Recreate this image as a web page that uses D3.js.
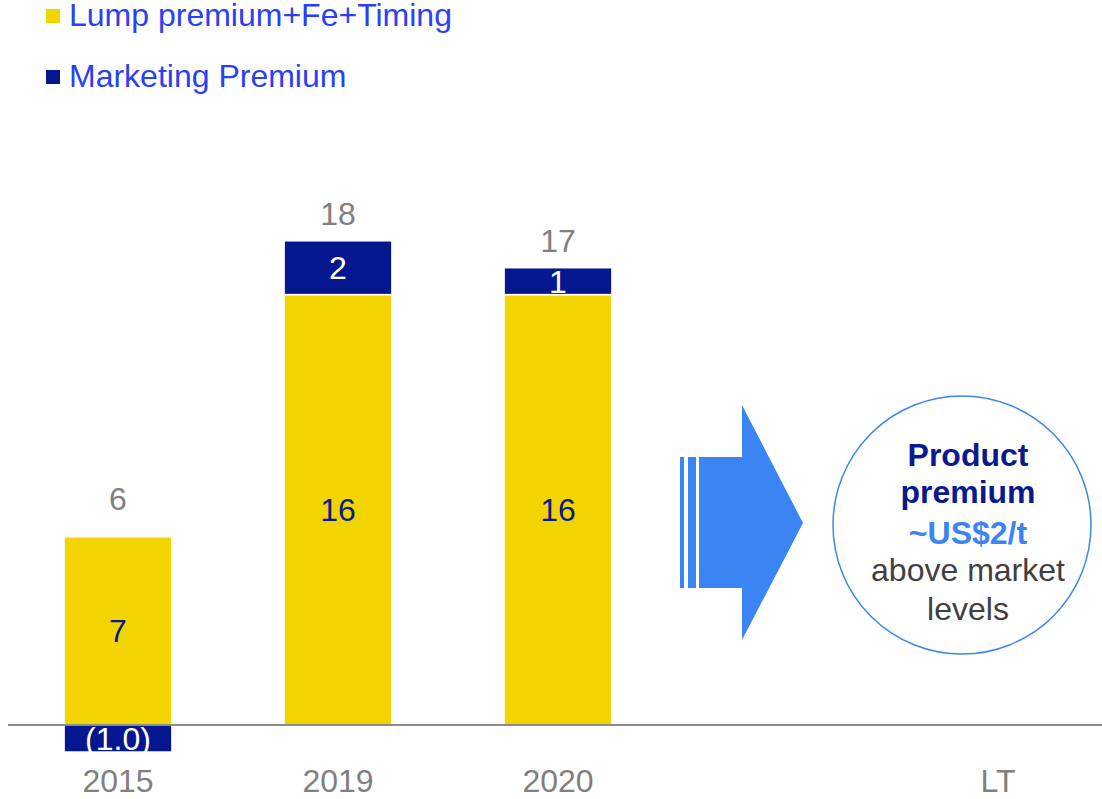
<!DOCTYPE html>
<html>
<head>
<meta charset="utf-8">
<script src="https://cdn.jsdelivr.net/npm/d3@7"></script>
<style>
  html, body { margin: 0; padding: 0; background: #fff; }
  svg { display: block; font-family: "Liberation Sans", Arial, sans-serif; }
</style>
</head>
<body>
<svg id="chart" width="1102" height="799"></svg>
<script>
// Categories along the axis (the blank slot holds the arrow)
const categories = ["2015", "2019", "2020", "", "LT"];
const barCategories = ["2015", "2019", "2020"];

// Series values (US$/t)
const lumpPremium = [7, 16, 16];
const marketingPremium = [-1.0, 2, 1];
const totals = [6, 18, 17];

// Segment label text
const lumpLabels = ["7", "16", "16"];
const marketingLabels = ["(1.0)", "2", "1"];

const seriesNames = ["Lump premium+Fe+Timing", "Marketing Premium"];

const calloutLines = [
  { text: "Product", kind: "head" },
  { text: "premium", kind: "head" },
  { text: "~US$2/t", kind: "value" },
  { text: "above market", kind: "body" },
  { text: "levels", kind: "body" }
];

const colors = { lump: "#f2d400", marketing: "#04178f", axis: "#8c8c8c", grey: "#808080",
                 legendText: "#2a40f4", arrow: "#3a85f3", navy: "#0a1a8c", dark: "#404040" };

const FS = 32;

const svg = d3.select("#chart");

const x = d3.scaleBand().domain(categories).range([8, 1108])
  .paddingInner(0.51).paddingOuter(0.255);
const y = d3.scaleLinear().domain([-1, 18]).range([752, 240.8]);

const rows = barCategories.map((c, i) => ({ cat: c, lump: lumpPremium[i], marketing: marketingPremium[i],
  total: totals[i], lumpLabel: lumpLabels[i], marketingLabel: marketingLabels[i] }));

const stack = d3.stack().keys(["lump", "marketing"]).offset(d3.stackOffsetDiverging);
const stacked = stack(rows);

// Bars
const layer = svg.append("g").selectAll("g").data(stacked).join("g")
  .attr("fill", d => colors[d.key]);

layer.selectAll("rect").data(d => d.map(s => ({ key: d.key, s }))).join("rect")
  .attr("x", d => x(d.s.data.cat))
  .attr("width", x.bandwidth())
  .attr("y", d => y(Math.max(d.s[0], d.s[1])))
  .attr("height", d => Math.abs(y(d.s[0]) - y(d.s[1])))
  .attr("stroke", "#fff")
  .attr("stroke-width", 1.5);

// Segment labels
layer.selectAll("text").data(d => d.map(s => ({ key: d.key, s }))).join("text")
  .attr("x", d => x(d.s.data.cat) + x.bandwidth() / 2)
  .attr("y", d => (y(d.s[0]) + y(d.s[1])) / 2)
  .attr("dy", "0.36em")
  .attr("text-anchor", "middle")
  .attr("font-size", FS)
  .attr("fill", d => d.key === "lump" ? colors.navy : "#fff")
  .text(d => d.key === "lump" ? d.s.data.lumpLabel : d.s.data.marketingLabel);

// Baseline
svg.append("line")
  .attr("x1", 8).attr("x2", 1102)
  .attr("y1", y(0)).attr("y2", y(0))
  .attr("stroke", colors.axis).attr("stroke-width", 2);

// Totals above each stack
svg.append("g").selectAll("text").data(rows).join("text")
  .attr("x", d => x(d.cat) + x.bandwidth() / 2)
  .attr("y", d => y(d.lump + Math.max(0, d.marketing)) - (d.marketing < 0 ? 27 : 16))
  .attr("text-anchor", "middle")
  .attr("font-size", FS)
  .attr("fill", colors.grey)
  .text(d => d.total);

// Category axis labels
const xAxis = d3.axisBottom(x).tickSize(0).tickPadding(0);
const axisG = svg.append("g").attr("transform", `translate(0,${y(0)})`).call(xAxis);
axisG.select(".domain").remove();
axisG.selectAll("text")
  .attr("y", 67).attr("dy", 0)
  .attr("font-size", FS)
  .attr("font-family", "Liberation Sans, Arial, sans-serif")
  .attr("fill", colors.grey);

// Legend
const legend = svg.append("g");
const legendColors = [colors.lump, colors.marketing];
seriesNames.forEach((name, i) => {
  const ly = 26 + i * 61;
  legend.append("rect").attr("x", 46).attr("y", ly - 17).attr("width", 14).attr("height", 14)
    .attr("fill", legendColors[i]);
  legend.append("text").attr("x", 69).attr("y", ly)
    .attr("font-size", FS).attr("fill", colors.legendText).text(name);
});

// Arrow pointing toward the long-term callout
const ax = x("") + x.bandwidth() / 2 - 36; // centre of the arrow slot
const arrowG = svg.append("g").attr("fill", colors.arrow);
arrowG.append("rect").attr("x", ax - 62).attr("y", 457).attr("width", 4).attr("height", 131);
arrowG.append("rect").attr("x", ax - 54).attr("y", 457).attr("width", 8).attr("height", 131);
arrowG.append("path").attr("d",
  `M${ax - 43},457 L${ax},457 L${ax},405 L${ax + 61},523 L${ax},640 L${ax},588 L${ax - 43},588 Z`);

// Callout circle
const cx = 962, cy = 525, r = 129;
svg.append("circle").attr("cx", cx).attr("cy", cy).attr("r", r)
  .attr("fill", "#fff").attr("stroke", colors.arrow).attr("stroke-width", 1.5);

const styleFor = {
  head: { fill: colors.navy, weight: "bold" },
  value: { fill: colors.arrow, weight: "bold" },
  body: { fill: colors.dark, weight: "normal" }
};
const lineBase = [466, 503, 544, 581, 620];
svg.append("g").selectAll("text").data(calloutLines).join("text")
  .attr("x", cx + 6)
  .attr("y", (d, i) => lineBase[i])
  .attr("text-anchor", "middle")
  .attr("font-size", FS)
  .attr("font-weight", d => styleFor[d.kind].weight)
  .attr("fill", d => styleFor[d.kind].fill)
  .text(d => d.text);
</script>
</body>
</html>
